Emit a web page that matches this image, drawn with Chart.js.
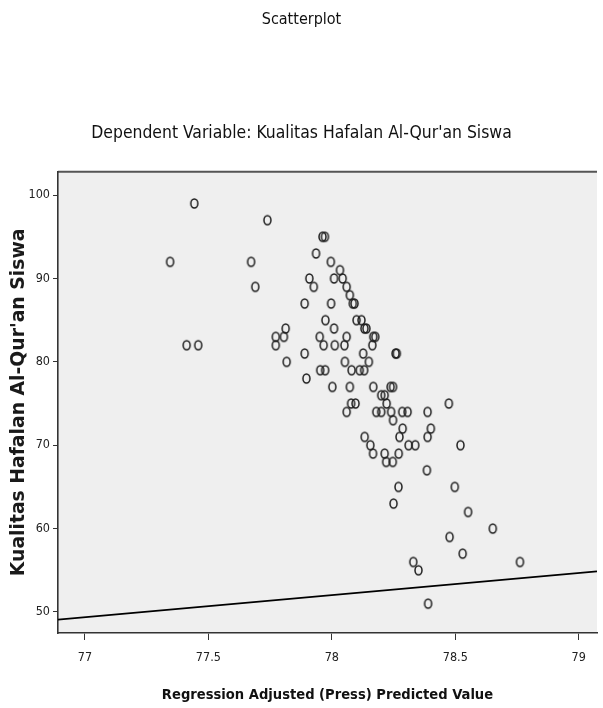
<!DOCTYPE html>
<html lang="en">
<head>
  <meta charset="UTF-8">
  <title>Scatterplot</title>
  <script src="https://cdn.jsdelivr.net/npm/chart.js"></script>
  <style>
    body { margin: 0; background: #fff; }
    #chart { display: block; }
  </style>
</head>
<body>
  <canvas id="chart" width="603" height="708"></canvas>

  <script>
    // Regression Adjusted (Press) Predicted Value
    const predicted = [
      77.443, 77.739, 77.962, 77.972, 77.936, 77.345, 77.673, 77.996, 78.033, 77.909,
      78.009, 78.044, 77.690, 77.927, 78.060, 78.073, 77.890, 77.997, 78.085, 78.092,
      77.974, 78.100, 78.120, 77.813, 78.009, 78.132, 78.140, 77.773, 77.806, 77.951,
      78.060, 78.168, 78.176, 77.412, 77.459, 77.773, 77.967, 78.012, 78.051, 78.164,
      77.890, 78.127, 78.258, 78.263, 77.817, 78.053, 78.150, 77.953, 77.973, 78.080,
      78.113, 78.131, 77.897, 78.002, 78.073, 78.168, 78.238, 78.248, 78.200, 78.214,
      78.078, 78.096, 78.222, 78.474, 78.060, 78.180, 78.200, 78.240, 78.285, 78.307,
      78.388, 78.248, 78.287, 78.401, 78.133, 78.274, 78.388, 78.156, 78.311, 78.338,
      78.521, 78.167, 78.214, 78.271, 78.220, 78.247, 78.385, 78.270, 78.498, 78.250,
      78.552, 78.652, 78.477, 78.530, 78.330, 78.762, 78.351, 78.390
    ];
    // Kualitas Hafalan Al-Qur'an Siswa
    const observed = [
      99, 97, 95, 95, 93, 92, 92, 92, 91, 90,
      90, 90, 89, 89, 89, 88, 87, 87, 87, 87,
      85, 85, 85, 84, 84, 84, 84, 83, 83, 83,
      83, 83, 83, 82, 82, 82, 82, 82, 82, 82,
      81, 81, 81, 81, 80, 80, 80, 79, 79, 79,
      79, 79, 78, 77, 77, 77, 77, 77, 76, 76,
      75, 75, 75, 75, 74, 74, 74, 74, 74, 74,
      74, 73, 72, 72, 71, 71, 71, 70, 70, 70,
      70, 69, 69, 69, 68, 68, 67, 65, 65, 63,
      62, 60, 59, 57, 56, 56, 55, 51
    ];
    // fit line end points (x, y)
    const fitX = [76.891, 79.074];
    const fitY = [49.08, 54.87];

    const xTicks = [77, 77.5, 78, 78.5, 79];
    const yTicks = [50, 60, 70, 80, 90, 100];

    const narrow = "'Liberation Sans Narrow', 'DejaVu Sans Condensed', 'Liberation Sans', sans-serif";

    // little open ellipse used as marker
    function ring() {
      const c = document.createElement('canvas');
      c.width = 11; c.height = 13;
      const g = c.getContext('2d');
      g.strokeStyle = '#1e1e1e';
      g.lineWidth = 1.5;
      g.beginPath();
      g.ellipse(5.5, 6.5, 3.5, 4.5, 0, 0, Math.PI * 2);
      g.stroke();
      return c;
    }

    const plotBg = {
      id: 'plotBg',
      beforeDraw(chart) {
        const { ctx, chartArea: a } = chart;
        ctx.save();
        ctx.fillStyle = '#efefef';
        ctx.fillRect(a.left, a.top, a.right - a.left, a.bottom - a.top);
        ctx.strokeStyle = '#555';
        ctx.lineWidth = 2;
        ctx.beginPath();
        ctx.moveTo(a.left, a.top);
        ctx.lineTo(a.right, a.top);
        ctx.stroke();
        ctx.restore();
      }
    };

    const points = predicted.map((x, i) => ({ x: x, y: observed[i] }));
    const line = fitX.map((x, i) => ({ x: x, y: fitY[i] }));

    new Chart(document.getElementById('chart'), {
      type: 'scatter',
      data: {
        datasets: [
          { data: points, pointStyle: ring(), pointRadius: 5, order: 1 },
          { type: 'line', data: line, borderColor: '#000', borderWidth: 1.6,
            pointRadius: 0, fill: false, order: 2 }
        ]
      },
      options: {
        responsive: false,
        animation: false,
        layout: { padding: 0 },
        plugins: {
          legend: { display: false },
          tooltip: { enabled: false },
          title: {
            display: true, text: 'Scatterplot', color: '#111',
            font: { family: narrow, size: 16, weight: 'normal' },
            padding: { top: 10.4, bottom: 0 }
          },
          subtitle: {
            display: true, text: 'Dependent Variable: Kualitas Hafalan Al-Qur\'an Siswa', color: '#111',
            font: { family: narrow, size: 17.4 },
            padding: { top: 93, bottom: 28.3 }
          }
        },
        scales: {
          x: {
            type: 'linear', min: 76.891, max: 79.074,
            afterBuildTicks: s => { s.ticks = xTicks.map(v => ({ value: v })); },
            afterFit: s => { s.height = 75; },
            border: { display: true, color: '#333', width: 1.6 },
            grid: { drawOnChartArea: false, drawTicks: true, tickLength: 7, color: '#333' },
            ticks: { color: '#222', padding: 10, maxRotation: 0,
                     font: { family: narrow, size: 12.5 }, callback: v => String(v) },
            title: {
              display: true, text: 'Regression Adjusted (Press) Predicted Value', color: '#111',
              font: { family: narrow, size: 14.6, weight: 'bold' },
              padding: { top: 0, bottom: 4 }
            }
          },
          y: {
            type: 'linear', min: 47.48, max: 102.8,
            afterBuildTicks: s => { s.ticks = yTicks.map(v => ({ value: v })); },
            afterFit: s => { s.width = 58; },
            border: { display: true, color: '#333', width: 1.6 },
            grid: { drawOnChartArea: false, drawTicks: true, tickLength: 5, color: '#333' },
            ticks: { color: '#222', padding: 3, font: { family: narrow, size: 12.5 } },
            title: {
              display: true, text: 'Kualitas Hafalan Al-Qur\'an Siswa', color: '#1a1a1a',
              font: { family: "'DejaVu Sans', sans-serif", size: 18.8, weight: 'bold' },
              padding: { top: 8, bottom: 0 }
            }
          }
        }
      },
      plugins: [plotBg]
    });
  </script>
</body>
</html>
